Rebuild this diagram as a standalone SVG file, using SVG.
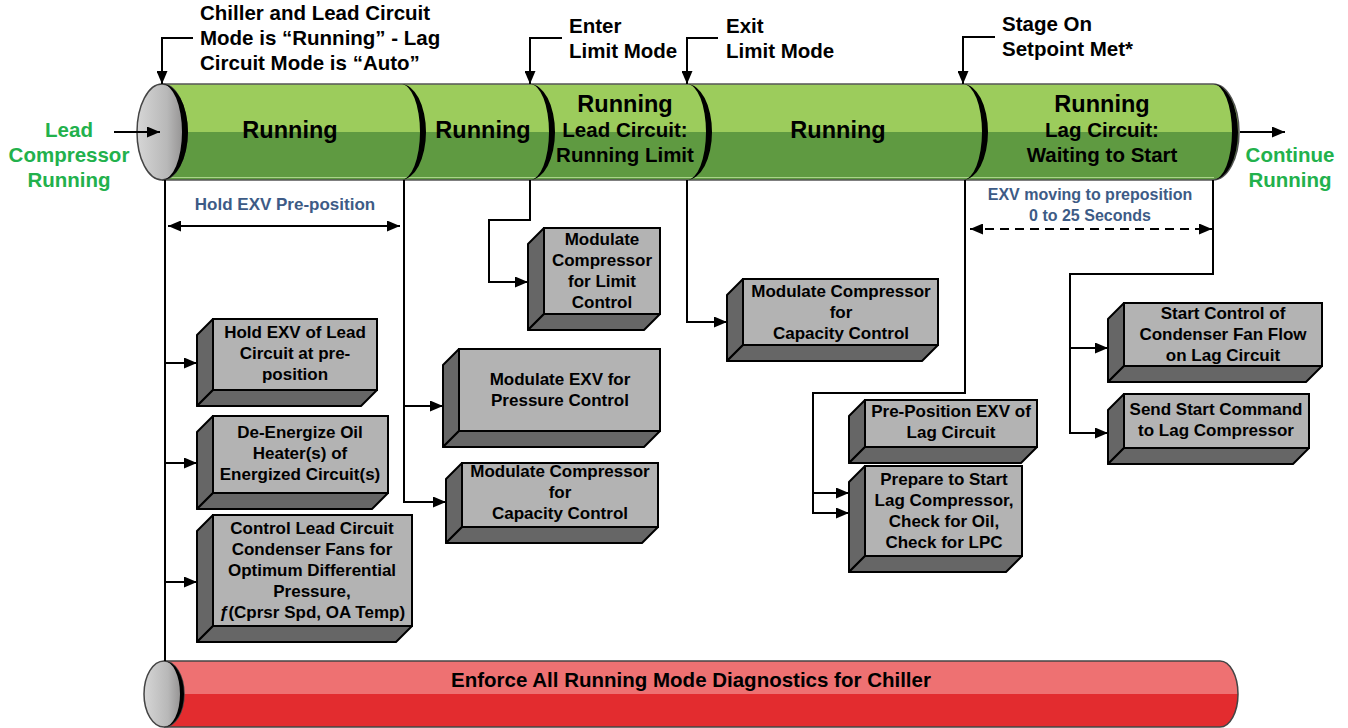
<svg xmlns="http://www.w3.org/2000/svg" width="1348" height="728" viewBox="0 0 1348 728">
<style>
text{font-family:"Liberation Sans",Arial,sans-serif;font-weight:bold;fill:#000;}
.lbl{font-size:20.5px;}
.cyl{font-size:23.5px;text-anchor:middle;}
.cyls{font-size:20.5px;text-anchor:middle;}
.grn{font-size:20.5px;fill:#22B14C;text-anchor:middle;}
.blu{fill:#3D5B86;text-anchor:middle;}
.bx{font-size:17px;text-anchor:middle;}
.front{fill:#B3B3B3;stroke:#000;stroke-width:2;}
.side{fill:#666;stroke:#000;stroke-width:2;stroke-linejoin:round;}
.con{fill:none;stroke:#000;stroke-width:2;}
.arr{marker-end:url(#ah);}
</style>
<defs>
<marker id="ah" markerUnits="userSpaceOnUse" markerWidth="13" markerHeight="11" refX="13" refY="5.5" orient="auto-start-reverse" viewBox="0 0 13 11"><path d="M0,0 L13,5.5 L0,11 Z" fill="#000"/></marker>
<linearGradient id="cap" x1="0" y1="0" x2="1" y2="0"><stop offset="0" stop-color="#D6D6D6"/><stop offset="0.6" stop-color="#B8B8B8"/><stop offset="1" stop-color="#8C8A8A"/></linearGradient>
</defs>

<g id="cylinder-main">
<path d="M162,84 H1213 A26,48 0 0 1 1239,132 H162 Z" fill="#9CCC5C"/>
<path d="M162,132 H1239 A26,48 0 0 1 1213,180 H162 Z" fill="#5F9A41"/>
<path d="M165,177.5 H1214" stroke="#A9D38A" stroke-width="1"/>
<path d="M162,84 H1213 A26,48 0 0 1 1213,180 H162" fill="none" stroke="#555" stroke-width="1.5"/>
<ellipse cx="162" cy="132" rx="25" ry="48" fill="url(#cap)" stroke="#444" stroke-width="1.5"/>
<path d="M162,84 A26,48 0 0 1 162,180 A20,48 0 0 0 162,84 Z" fill="#000"/>
<path d="M401,84 A25,48 0 0 1 401,180 A19,48 0 0 0 401,84 Z" fill="#000"/>
<path d="M530,84 A25,48 0 0 1 530,180 A19,48 0 0 0 530,84 Z" fill="#000"/>
<path d="M687,84 A25,48 0 0 1 687,180 A19,48 0 0 0 687,84 Z" fill="#000"/>
<path d="M963,84 A25,48 0 0 1 963,180 A19,48 0 0 0 963,84 Z" fill="#000"/>
<path d="M1213,84 A25,48 0 0 1 1213,180 A19,48 0 0 0 1213,84 Z" fill="#000"/>
<text class="cyl" x="290" y="138">Running</text>
<text class="cyl" x="483" y="138">Running</text>
<text class="cyl" x="625" y="112">Running</text>
<text class="cyls" x="625" y="137">Lead Circuit:</text>
<text class="cyls" x="625" y="162">Running Limit</text>
<text class="cyl" x="838" y="138">Running</text>
<text class="cyl" x="1102" y="112">Running</text>
<text class="cyls" x="1102" y="137">Lag Circuit:</text>
<text class="cyls" x="1102" y="162">Waiting to Start</text>
</g>

<g id="cylinder-diagnostics">
<path d="M164,661 H1220 A18,33 0 0 1 1238,694 H164 Z" fill="#EE7172"/>
<path d="M164,694 H1238 A18,33 0 0 1 1220,727 H164 Z" fill="#E32C2F"/>
<path d="M164,661 H1220 A18,33 0 0 1 1220,727 H164" fill="none" stroke="#444" stroke-width="1.5"/>
<ellipse cx="164" cy="694" rx="20" ry="33" fill="url(#cap)" stroke="#444" stroke-width="1.5"/>
<path d="M164,661 A20,33 0 0 1 164,727 A16,33 0 0 0 164,661 Z" fill="#000"/>
<text class="cyls" x="691" y="687">Enforce All Running Mode Diagnostics for Chiller</text>
</g>

<g id="labels">
<text class="lbl" x="200" y="20">Chiller and Lead Circuit</text>
<text class="lbl" x="200" y="45">Mode is “Running” - Lag</text>
<text class="lbl" x="200" y="70">Circuit Mode is “Auto”</text>
<text class="lbl" x="569" y="33">Enter</text>
<text class="lbl" x="569" y="58">Limit Mode</text>
<text class="lbl" x="726" y="33">Exit</text>
<text class="lbl" x="726" y="58">Limit Mode</text>
<text class="lbl" x="1002" y="31">Stage On</text>
<text class="lbl" x="1002" y="56">Setpoint Met*</text>
<text class="grn" x="69" y="137">Lead</text>
<text class="grn" x="69" y="162">Compressor</text>
<text class="grn" x="69" y="187">Running</text>
<text class="grn" x="1290" y="162">Continue</text>
<text class="grn" x="1290" y="187">Running</text>
<text class="blu" x="285" y="210" font-size="17">Hold EXV Pre-position</text>
<text class="blu" x="1090" y="200" font-size="16">EXV moving to preposition</text>
<text class="blu" x="1090" y="221" font-size="16">0 to 25 Seconds</text>
</g>

<g id="connectors">
<path class="con arr" d="M193,38 H162 V84"/>
<path class="con arr" d="M562,38 H530 V84"/>
<path class="con arr" d="M718,38 H687 V84"/>
<path class="con arr" d="M995,37 H963 V84"/>
<path class="con arr" d="M114,132 H160"/>
<path class="con arr" d="M1240,132 H1285"/>
<path class="con" d="M165,180 V661"/>
<path class="con arr" d="M165,363 H197"/>
<path class="con arr" d="M165,463 H197"/>
<path class="con arr" d="M165,582 H197"/>
<path class="con arr" d="M168,226 H400" marker-start="url(#ah)"/>
<path class="con arr" d="M404,180 V502 H446"/>
<path class="con arr" d="M404,406 H443"/>
<path class="con arr" d="M530,180 V220 H489 V282 H528"/>
<path class="con arr" d="M687,180 V322 H727"/>
<path class="con arr" d="M965,180 V393 H813 V513 H849"/>
<path class="con arr" d="M813,493 H849"/>
<path class="con arr" d="M1213,180 V274 H1070 V433 H1108"/>
<path class="con arr" d="M1070,348 H1108"/>
<path class="con arr" d="M970,229 H1212" stroke-dasharray="9,6" marker-start="url(#ah)"/>
</g>

<g id="box-hold-exv">
<polygon class="side" points="213,319 197,335 197,406 213,390"/>
<polygon class="side" points="213,390 197,406 361,406 377,390"/>
<rect class="front" x="213" y="319" width="164" height="71"/>
<text class="bx" x="295" y="338">Hold EXV of Lead</text>
<text class="bx" x="295" y="359">Circuit at pre-</text>
<text class="bx" x="295" y="380">position</text>
</g>

<g id="box-deenergize">
<polygon class="side" points="213,416 197,432 197,509 213,493"/>
<polygon class="side" points="213,493 197,509 372,509 388,493"/>
<rect class="front" x="213" y="416" width="175" height="77"/>
<text class="bx" x="300" y="438">De-Energize Oil</text>
<text class="bx" x="300" y="459">Heater(s) of</text>
<text class="bx" x="300" y="480">Energized Circuit(s)</text>
</g>

<g id="box-condenser-fans">
<polygon class="side" points="213,515 197,531 197,642 213,626"/>
<polygon class="side" points="213,626 197,642 396,642 412,626"/>
<rect class="front" x="213" y="515" width="199" height="111"/>
<text class="bx" x="312" y="534">Control Lead Circuit</text>
<text class="bx" x="312" y="555">Condenser Fans for</text>
<text class="bx" x="312" y="576">Optimum Differential</text>
<text class="bx" x="312" y="597">Pressure,</text>
<text class="bx" x="312" y="618"><tspan font-style="italic">ƒ</tspan>(Cprsr Spd, OA Temp)</text>
</g>

<g id="box-limit-control">
<polygon class="side" points="544,228 528,244 528,330 544,314"/>
<polygon class="side" points="544,314 528,330 644,330 660,314"/>
<rect class="front" x="544" y="228" width="116" height="86"/>
<text class="bx" x="602" y="245">Modulate</text>
<text class="bx" x="602" y="266">Compressor</text>
<text class="bx" x="602" y="287">for Limit</text>
<text class="bx" x="602" y="308">Control</text>
</g>

<g id="box-exv-pressure">
<polygon class="side" points="459,349 443,365 443,447 459,431"/>
<polygon class="side" points="459,431 443,447 644,447 660,431"/>
<rect class="front" x="459" y="349" width="201" height="82"/>
<text class="bx" x="560" y="385">Modulate EXV for</text>
<text class="bx" x="560" y="406">Pressure Control</text>
</g>

<g id="box-capacity-1">
<polygon class="side" points="462,463 446,479 446,543 462,527"/>
<polygon class="side" points="462,527 446,543 642,543 658,527"/>
<rect class="front" x="462" y="463" width="196" height="64"/>
<text class="bx" x="560" y="477">Modulate Compressor</text>
<text class="bx" x="560" y="498">for</text>
<text class="bx" x="560" y="519">Capacity Control</text>
</g>

<g id="box-capacity-2">
<polygon class="side" points="743,279 727,295 727,361 743,345"/>
<polygon class="side" points="743,345 727,361 922,361 938,345"/>
<rect class="front" x="743" y="279" width="195" height="66"/>
<text class="bx" x="841" y="297">Modulate Compressor</text>
<text class="bx" x="841" y="318">for</text>
<text class="bx" x="841" y="339">Capacity Control</text>
</g>

<g id="box-preposition-lag">
<polygon class="side" points="865,400 849,416 849,463 865,447"/>
<polygon class="side" points="865,447 849,463 1021,463 1037,447"/>
<rect class="front" x="865" y="400" width="172" height="47"/>
<text class="bx" x="951" y="417">Pre-Position EXV of</text>
<text class="bx" x="951" y="438">Lag Circuit</text>
</g>

<g id="box-prepare-lag">
<polygon class="side" points="865,466 849,482 849,572 865,556"/>
<polygon class="side" points="865,556 849,572 1006,572 1022,556"/>
<rect class="front" x="865" y="466" width="157" height="90"/>
<text class="bx" x="944" y="485">Prepare to Start</text>
<text class="bx" x="944" y="506">Lag Compressor,</text>
<text class="bx" x="944" y="527">Check for Oil,</text>
<text class="bx" x="944" y="548">Check for LPC</text>
</g>

<g id="box-condenser-lag">
<polygon class="side" points="1124,303 1108,319 1108,382 1124,366"/>
<polygon class="side" points="1124,366 1108,382 1306,382 1322,366"/>
<rect class="front" x="1124" y="303" width="198" height="63"/>
<text class="bx" x="1223" y="319">Start Control of</text>
<text class="bx" x="1223" y="340">Condenser Fan Flow</text>
<text class="bx" x="1223" y="361">on Lag Circuit</text>
</g>

<g id="box-start-lag">
<polygon class="side" points="1124,394 1108,410 1108,464 1124,448"/>
<polygon class="side" points="1124,448 1108,464 1293,464 1309,448"/>
<rect class="front" x="1124" y="394" width="185" height="54"/>
<text class="bx" x="1216" y="415">Send Start Command</text>
<text class="bx" x="1216" y="436">to Lag Compressor</text>
</g>
</svg>
